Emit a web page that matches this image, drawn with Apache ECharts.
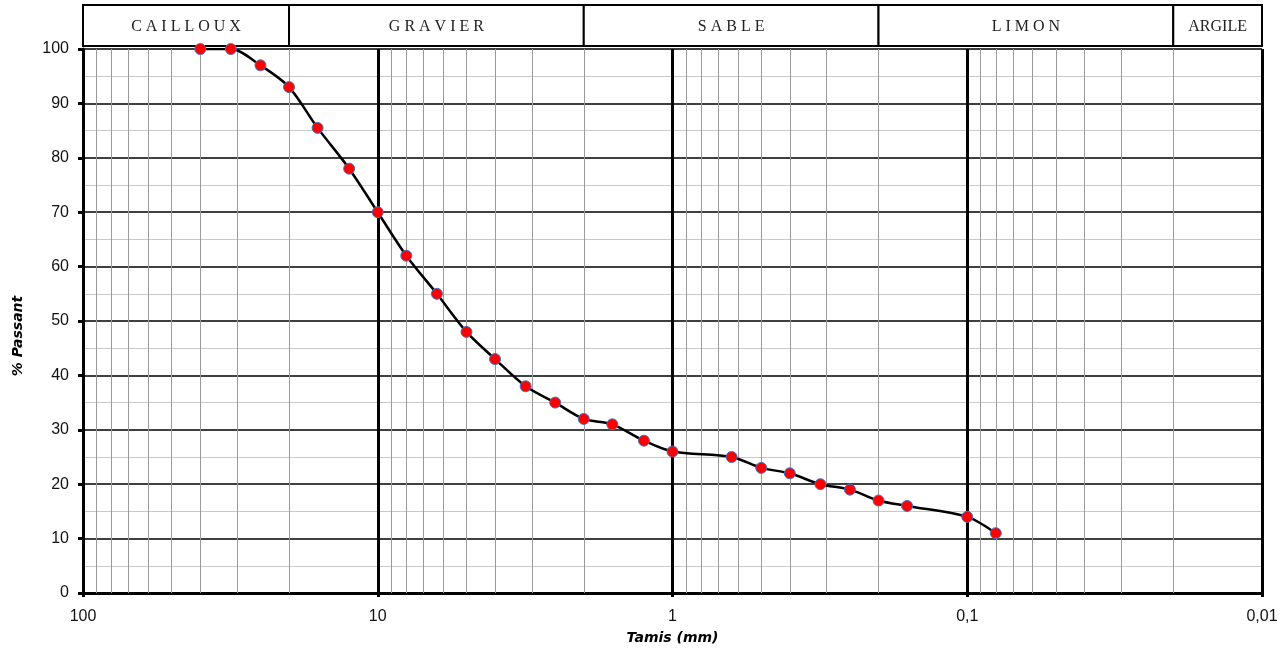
<!DOCTYPE html>
<html>
<head>
<meta charset="utf-8">
<script src="https://cdn.jsdelivr.net/npm/echarts@6/dist/echarts.min.js"></script>
<style>
html,body{margin:0;padding:0;background:#fff;}
#main{width:1287px;height:651px;}
</style>
</head>
<body>
<div id="main"></div>
<script>
// Sieve sizes (mm) and % passing
const sizes = [40, 31.5, 25, 20, 16, 12.5, 10, 8, 6.3, 5, 4, 3.15, 2.5, 2, 1.6, 1.25, 1, 0.63, 0.5, 0.4, 0.315, 0.25, 0.2, 0.16, 0.1, 0.08];
const passing = [100, 100, 97, 93, 85.5, 78, 70, 62, 55, 48, 43, 38, 35, 32, 31, 28, 26, 25, 23, 22, 20, 19, 17, 16, 14, 11];
// Soil class zones (header bands)
const zoneLabels = ['C A I L L O U X', 'G R A V I E R', 'S A B L E', 'L I M O N', 'ARGILE'];
const zoneBounds = [100, 20, 2, 0.2, 0.02, 0.01];
// Axis ranges
const xMin = 0.01, xMax = 100;
const yMin = 0, yMax = 100, yInterval = 10;
const decades = [10, 1, 0.1, 0.01];
const minorFactors = [2, 3, 4, 5, 6, 7, 8, 9];

const minorX = [];
decades.forEach(d => minorFactors.forEach(k => minorX.push({ xAxis: +(d * k).toPrecision(6) })));

const nameFont = { fontFamily: 'DejaVu Sans', fontStyle: 'italic', fontWeight: 'bold', fontSize: 14, color: '#000' };

const chart = echarts.init(document.getElementById('main'));
chart.setOption({
  animation: false,
  backgroundColor: '#fff',
  grid: { left: 83, right: 25, top: 49, bottom: 58, containLabel: false },
  xAxis: {
    type: 'log', logBase: 10, min: xMin, max: xMax, inverse: true,
    name: 'Tamis (mm)', nameLocation: 'middle', nameGap: 38,
    nameTextStyle: nameFont,
    axisLine: { show: true, onZero: false, lineStyle: { color: '#000', width: 3 } },
    axisTick: { show: true, length: 4, lineStyle: { color: '#000', width: 3 } },
    axisLabel: { color: '#111', fontFamily: 'Liberation Sans', fontSize: 16, margin: 16,
      formatter: v => String(+(+v).toPrecision(6)).replace('.', ',') },
    splitLine: { show: true, lineStyle: { color: '#000', width: 3 } }
  },
  yAxis: {
    type: 'value', min: yMin, max: yMax, interval: yInterval,
    name: '% Passant', nameLocation: 'middle', nameGap: 58, nameRotate: 90,
    nameTextStyle: Object.assign({}, nameFont, { padding: [0, 0, 0, -30] }),
    axisLine: { show: true, lineStyle: { color: '#000', width: 3 } },
    axisTick: { show: true, length: 5, lineStyle: { color: '#000', width: 3 } },
    axisLabel: { color: '#111', fontFamily: 'Liberation Sans', fontSize: 16, margin: 14 },
    splitLine: { show: true, lineStyle: { color: '#000', width: 1.5 } },
    minorTick: { show: false, splitNumber: 2 },
    minorSplitLine: { show: true, lineStyle: { color: '#c8c8c8', width: 1 } }
  },
  series: [
    {
      type: 'line', data: [], silent: true, z: 1,
      markLine: {
        silent: true, symbol: ['none', 'none'], animation: false,
        label: { show: false },
        lineStyle: { color: '#9a9a9a', width: 1, type: 'solid' },
        emphasis: { disabled: true },
        data: minorX
      }
    },
    {
      type: 'line', z: 5,
      data: sizes.map((s, i) => [s, passing[i]]),
      smooth: 0.3,
      symbol: 'circle', symbolSize: 11,
      lineStyle: { color: '#000', width: 2.5 },
      itemStyle: { color: '#ff0000', borderColor: '#4472c4', borderWidth: 1 }
    }
  ]
});

// Header bands positioned through the x axis scale
const bandTop = 5, bandBottom = 46;
const graphics = [];
for (let i = 0; i < zoneLabels.length; i++) {
  const x1 = chart.convertToPixel({ xAxisIndex: 0 }, zoneBounds[i]);
  const x2 = chart.convertToPixel({ xAxisIndex: 0 }, zoneBounds[i + 1]);
  graphics.push({
    type: 'rect', silent: true,
    shape: { x: x1, y: bandTop, width: x2 - x1, height: bandBottom - bandTop },
    style: { fill: '#fff', stroke: '#000', lineWidth: 2 }
  });
  graphics.push({
    type: 'text', silent: true,
    style: { text: zoneLabels[i], x: (x1 + x2) / 2, y: (bandTop + bandBottom) / 2 + 1,
      align: 'center', verticalAlign: 'middle', textAlign: 'center', textVerticalAlign: 'middle',
      font: '16px "Liberation Serif"', fill: '#222' }
  });
}
chart.setOption({ graphic: graphics });
</script>
</body>
</html>
